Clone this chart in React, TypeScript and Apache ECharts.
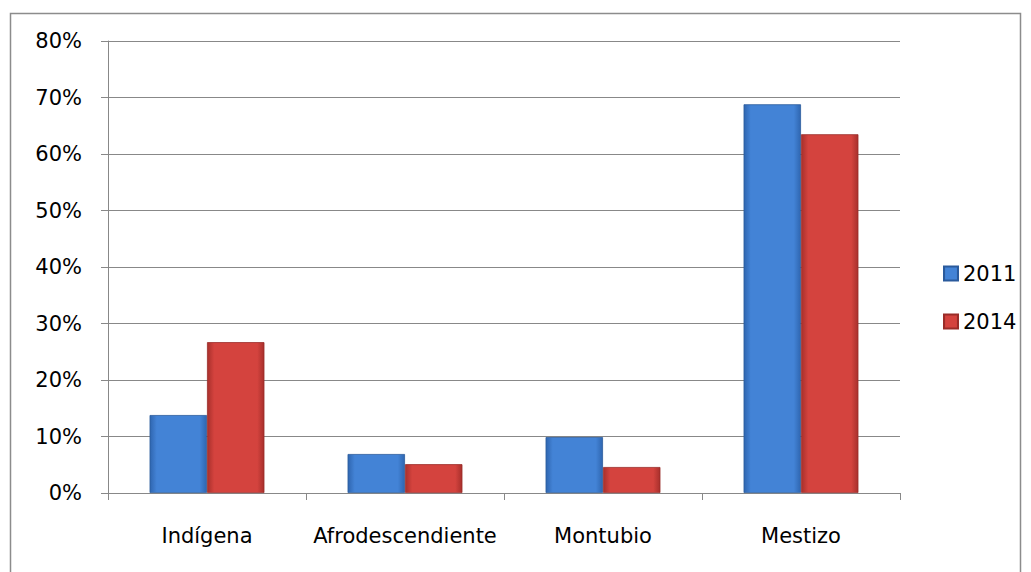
import React, { useEffect, useRef } from "react";
import * as echarts from "echarts";

const categories = ["Indígena", "Afrodescendiente", "Montubio", "Mestizo"];
const series2011 = [13.8, 6.9, 9.9, 68.8];
const series2014 = [26.7, 5.1, 4.6, 63.5];
const yTicks = [0, 10, 20, 30, 40, 50, 60, 70, 80];
const seriesNames = ["2011", "2014"];

const FONT = "'DejaVu Sans', sans-serif";

function barGradient(edge: string, mid: string) {
  return new echarts.graphic.LinearGradient(0, 0, 1, 0, [
    { offset: 0, color: edge },
    { offset: 0.12, color: mid },
    { offset: 0.88, color: mid },
    { offset: 1, color: edge },
  ]);
}

export default function App() {
  const ref = useRef<HTMLDivElement>(null);
  useEffect(() => {
    document.body.style.margin = "0";
    const chart = echarts.init(ref.current!, undefined, { renderer: "svg" });
    const blue = barGradient("#2f66b0", "#4383d6");
    const red = barGradient("#a8302c", "#d4433e");
    chart.setOption({
      animation: false,
      backgroundColor: "#ffffff",
      graphic: [
        {
          type: "rect",
          shape: { x: 10.5, y: 13.5, width: 1010, height: 570 },
          style: { fill: "none", stroke: "#8c8c8c", lineWidth: 1.5 },
          silent: true,
        },
      ],
      grid: { left: 108, right: 131, top: 41, bottom: 79, containLabel: false },
      legend: {
        data: seriesNames,
        orient: "vertical",
        left: 938,
        top: 258,
        itemWidth: 14,
        itemHeight: 14,
        itemGap: 27,
        icon: "rect",
        textStyle: { fontFamily: FONT, fontSize: 21, color: "#000" },
      },
      xAxis: {
        type: "category",
        data: categories,
        axisLine: { lineStyle: { color: "#888", width: 1 } },
        axisTick: { show: true, length: 7, lineStyle: { color: "#888" }, alignWithLabel: false },
        axisLabel: {
          fontFamily: FONT,
          fontSize: 21,
          color: "#000",
          margin: 32,
          interval: 0,
          hideOverlap: false,
        },
      },
      yAxis: {
        type: "value",
        min: 0,
        max: 80,
        interval: 10,
        axisLine: { show: true, lineStyle: { color: "#888", width: 1 } },
        axisTick: { show: true, length: 7, lineStyle: { color: "#888" } },
        splitLine: { lineStyle: { color: "#888", width: 1 } },
        axisLabel: {
          fontFamily: FONT,
          fontSize: 21,
          color: "#000",
          margin: 26,
          formatter: (v: number) => (yTicks.includes(v) ? v + "%" : ""),
        },
      },
      series: [
        {
          name: seriesNames[0],
          type: "bar",
          data: series2011,
          barGap: "0%",
          barCategoryGap: "42%",
          itemStyle: { color: blue, borderColor: "#2a5a9c", borderWidth: 0.8 },
        },
        {
          name: seriesNames[1],
          type: "bar",
          data: series2014,
          barGap: "0%",
          barCategoryGap: "42%",
          itemStyle: { color: red, borderColor: "#9a2c28", borderWidth: 0.8 },
        },
      ],
    });
    return () => chart.dispose();
  }, []);
  return (
    <div
      ref={ref}
      style={{ position: "absolute", left: 0, top: 0, width: 1031, height: 572 }}
    />
  );
}
